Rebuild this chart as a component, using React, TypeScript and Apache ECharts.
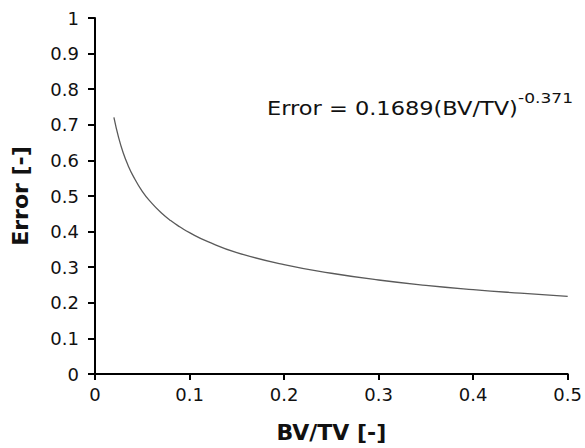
import React, { useEffect, useRef } from "react";
import * as echarts from "echarts";

const bvtv = [0.02, 0.025, 0.03, 0.035, 0.04, 0.05, 0.06, 0.07, 0.08, 0.09, 0.1, 0.12, 0.15, 0.2, 0.25, 0.3, 0.35, 0.4, 0.45, 0.5];
const errorValues = [0.721, 0.664, 0.62, 0.586, 0.558, 0.513, 0.48, 0.453, 0.431, 0.413, 0.397, 0.371, 0.341, 0.307, 0.283, 0.264, 0.249, 0.237, 0.227, 0.218];
const equationMain = "Error = 0.1689(BV/TV)";
const equationExp = "-0.371";

const FONT = "'DejaVu Sans', 'Open Sans', sans-serif";

export default function App() {
  const ref = useRef<HTMLDivElement>(null);
  useEffect(() => {
    if (!ref.current) return;
    const chart = echarts.init(ref.current, null, { renderer: "svg" });
    chart.setOption({
      animation: false,
      backgroundColor: "#ffffff",
      grid: { left: 95, right: 15, top: 18, bottom: 74 },
      xAxis: {
        type: "value",
        min: 0,
        max: 0.5,
        interval: 0.1,
        name: "BV/TV [-]",
        nameLocation: "middle",
        nameGap: 47,
        nameTextStyle: { fontFamily: FONT, fontWeight: "bold", fontSize: 22, color: "#111" },
        axisLine: { show: true, lineStyle: { color: "#000", width: 2 } },
        axisTick: { show: true, inside: false, length: 6, lineStyle: { color: "#000", width: 2 } },
        axisLabel: { fontFamily: FONT, fontSize: 18, color: "#111", margin: 11 },
        splitLine: { show: false },
      },
      yAxis: {
        type: "value",
        min: 0,
        max: 1,
        interval: 0.1,
        name: "Error [-]",
        nameLocation: "middle",
        nameRotate: 90,
        nameGap: 64,
        nameTextStyle: { fontFamily: FONT, fontWeight: "bold", fontSize: 22, color: "#111" },
        axisLine: { show: true, lineStyle: { color: "#000", width: 2 } },
        axisTick: { show: true, inside: false, length: 7, lineStyle: { color: "#000", width: 2 } },
        axisLabel: { fontFamily: FONT, fontSize: 18, color: "#111", margin: 16 },
        splitLine: { show: false },
      },
      series: [
        {
          type: "line",
          data: bvtv.map((x, i) => [x, errorValues[i]]),
          showSymbol: false,
          smooth: true,
          lineStyle: { color: "#5a5a5a", width: 1.3 },
        },
      ],
      graphic: [
        {
          type: "text",
          x: 267,
          y: 108,
          scaleX: 1.125,
          style: {
            text: equationMain,
            fontFamily: FONT,
            fontSize: 20,
            fill: "#111",
            verticalAlign: "middle",
            align: "left",
          },
        },
        {
          type: "text",
          x: 518,
          y: 99,
          scaleX: 1.22,
          style: {
            text: equationExp,
            fontFamily: FONT,
            fontSize: 14,
            fill: "#111",
            verticalAlign: "middle",
            align: "left",
          },
        },
      ],
    });
    return () => chart.dispose();
  }, []);
  return <div ref={ref} style={{ width: 585, height: 448, position: "absolute", left: 0, top: 0 }} />;
}
